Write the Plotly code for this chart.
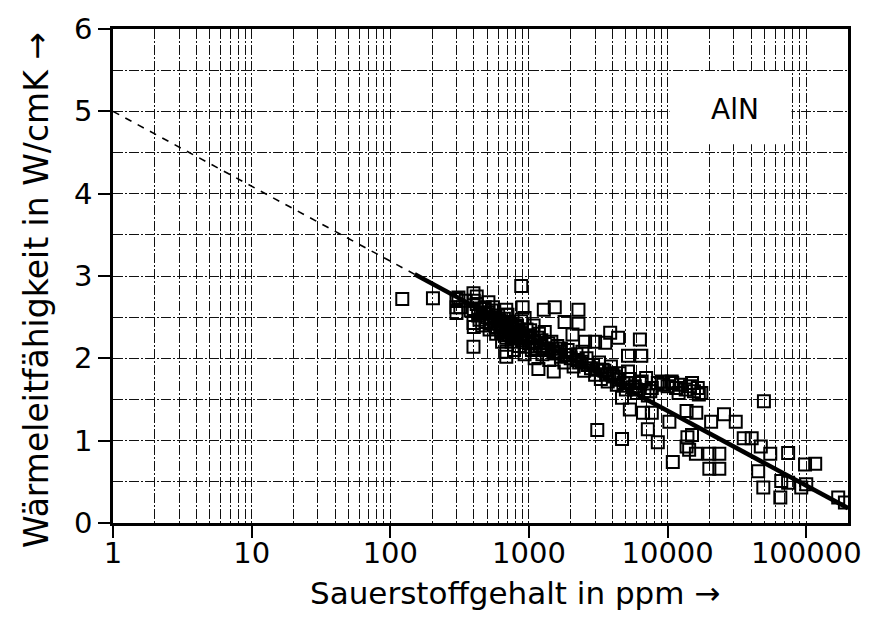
import plotly.graph_objects as go

# ---------------- data ----------------
# measured points: oxygen content (ppm) and thermal conductivity (W/cmK)
ppm = [122, 203, 300, 300, 300, 310, 398, 400, 398, 400, 398, 400, 510, 880, 1280, 1535, 2275, 1807, 2275,
       3853, 4395, 6310, 3550, 5180, 6460, 1510, 1170, 5180, 7690, 9060, 10700, 2430, 2060, 2540, 3000,
       8500, 9300, 10000, 10800, 11500, 12500, 13500, 14500, 15500, 16500, 17500, 12000, 15000, 16800,
       49500, 13700, 16100, 10300, 20600, 25500, 31000, 13900, 15000, 13700, 14300, 16000, 20000, 23600,
       20000, 23600, 35400, 40400, 8500, 47000, 55000, 74000, 98000, 116000, 45000, 49000, 66000, 74000,
       65000, 92000, 100000, 170000, 190000, 3110, 4690, 4690, 5340, 6650, 7690, 7200, 10900,
       686, 686, 686, 686, 686, 686, 900, 930,
       320, 350, 380, 420, 450, 460, 480, 500, 520, 540, 560, 580, 600, 620, 640, 660, 680, 700, 720,
       740, 760, 780, 800, 830, 850, 880, 900, 930, 960, 1000, 1000, 1050, 1080, 1100, 1150, 1200,
       1250, 1300, 1350, 1400, 1450, 1500, 1600, 1700, 1800, 1900, 2000, 2100, 2200, 2300, 2500, 2600,
       2800, 3000, 3200, 3300, 3500, 3700, 3900, 4100, 4300, 4500, 4800, 5000, 5300, 5600, 6000, 6300,
       6800, 7200, 420, 550, 1700, 2700, 3400, 4000, 5800, 6500, 7000, 7500,
       430, 470, 490, 510, 530, 570, 590, 610, 630, 650, 670, 690, 730, 750, 770, 790, 820, 860,
       890, 940, 980, 1020, 1060, 1120, 1180, 1230, 1280, 1380, 1480, 1650, 1850, 2400, 2900, 3600,
       440, 485, 525, 575, 615, 655, 705, 745, 795, 845, 910, 990, 1090, 1210, 1330, 1560, 1950, 2250,
       2650, 3100, 3800, 4400, 5100, 5900]
wlf = [2.72, 2.73, 2.72, 2.62, 2.55, 2.74, 2.79, 2.70, 2.43, 2.38, 2.14, 2.60, 2.68, 2.88, 2.59, 2.62, 2.59, 2.44, 2.42,
       2.31, 2.25, 2.23, 2.19, 2.03, 2.03, 1.84, 1.87, 1.84, 1.64, 1.72, 1.72, 2.08, 2.29, 2.20, 2.20,
       1.70, 1.68, 1.66, 1.70, 1.64, 1.68, 1.62, 1.66, 1.60, 1.64, 1.58, 1.58, 1.70, 1.56,
       1.48, 1.36, 1.34, 1.23, 1.23, 1.32, 1.23, 1.04, 1.07, 0.93, 0.89, 0.84, 0.84, 0.84,
       0.66, 0.66, 1.03, 1.03, 0.98, 0.93, 0.84, 0.85, 0.71, 0.72, 0.63, 0.43, 0.51, 0.49,
       0.31, 0.43, 0.47, 0.31, 0.25, 1.13, 1.02, 1.52, 1.38, 1.34, 1.34, 1.14, 0.74,
       2.59, 2.53, 2.31, 2.25, 2.08, 2.02, 2.62, 2.49,
       2.62, 2.70, 2.58, 2.66, 2.55, 2.40, 2.62, 2.50, 2.35, 2.58, 2.45, 2.30, 2.52, 2.40, 2.20, 2.48, 2.35, 2.53, 2.29,
       2.42, 2.25, 2.10, 2.38, 2.30, 2.15, 2.45, 2.22, 2.05, 2.35, 2.18, 2.28, 2.10, 2.40, 2.00, 2.25, 2.15,
       2.05, 2.32, 2.12, 1.98, 2.20, 2.08, 2.15, 2.02, 1.95, 2.10, 2.00, 1.90, 2.05, 1.95, 1.85, 2.00,
       1.88, 1.80, 1.95, 1.75, 1.85, 1.72, 1.90, 1.78, 1.68, 1.82, 1.70, 1.62, 1.75, 1.65, 1.58, 1.70,
       1.60, 1.55, 2.75, 2.62, 2.12, 1.92, 1.86, 1.80, 1.66, 1.72, 1.76, 1.60,
       2.52, 2.60, 2.44, 2.56, 2.42, 2.50, 2.38, 2.46, 2.32, 2.42, 2.28, 2.40, 2.36, 2.20, 2.32, 2.26, 2.40, 2.24,
       2.30, 2.14, 2.26, 2.34, 2.20, 2.12, 2.30, 2.22, 2.10, 2.18, 2.12, 2.08, 2.04, 1.96, 1.92, 1.80,
       2.47, 2.54, 2.48, 2.37, 2.46, 2.34, 2.44, 2.36, 2.28, 2.35, 2.26, 2.24, 2.20, 2.19, 2.10, 2.06, 2.04, 1.98,
       1.92, 1.86, 1.82, 1.74, 1.70, 1.62]

# regression line (solid part) and its extrapolation (dashed part)
fit_solid_x = [150, 200000]
fit_solid_y = [3.02, 0.18]
fit_dash_x = [1, 150]
fit_dash_y = [5.0, 3.02]

x_tickvals = [1, 10, 100, 1000, 10000, 100000]
x_ticktext = ["1", "10", "100", "1000", "10000", "100000"]
x_gridvals = [m * 10 ** e for e in range(0, 6) for m in range(1, 10) if m * 10 ** e <= 200000]
y_tickvals = [0, 1, 2, 3, 4, 5, 6]
y_gridvals = [0.5, 1.5, 2.5, 3.5, 4.5, 5.5]

label_text = "AlN"
x_title = "Sauerstoffgehalt in ppm →"
y_title = "Wärmeleitfähigkeit in W/cmK →"

FONT = "DejaVu Sans"
GRID_DASH = "10px,2px,2px,2px"
GRID_COLOR = "#111"

fig = go.Figure()
fig.add_trace(go.Scatter(x=fit_dash_x, y=fit_dash_y, mode="lines",
                         line=dict(color="black", width=1.6, dash="7px,7px"),
                         showlegend=False, hoverinfo="skip"))
fig.add_trace(go.Scatter(x=ppm, y=wlf, mode="markers",
                         marker=dict(symbol="square-open", size=12, color="black",
                                     line=dict(width=2, color="black")),
                         showlegend=False))
fig.add_trace(go.Scatter(x=fit_solid_x, y=fit_solid_y, mode="lines",
                         line=dict(color="black", width=4.5),
                         showlegend=False, hoverinfo="skip"))

fig.update_xaxes(type="log", range=[0, 5.30103],
                 tickmode="array", tickvals=x_tickvals, ticktext=x_ticktext,
                 ticks="outside", ticklen=12, tickwidth=1.5, tickcolor="black",
                 ticklabelstandoff=-10,
                 showgrid=False,
                 minor=dict(tickmode="array", tickvals=x_gridvals, showgrid=True,
                            gridcolor=GRID_COLOR, gridwidth=1, griddash=GRID_DASH, ticks=""),
                 showline=True, linecolor="black", linewidth=2.5, mirror=True,
                 tickfont=dict(family=FONT, size=29, color="black"),
                 zeroline=False)
fig.update_yaxes(range=[0, 6], tickmode="array", tickvals=y_tickvals,
                 ticks="outside", ticklen=12, tickwidth=1.5, tickcolor="black",
                 showgrid=True, gridcolor=GRID_COLOR, gridwidth=1, griddash=GRID_DASH,
                 minor=dict(tickmode="array", tickvals=y_gridvals, showgrid=True,
                            gridcolor=GRID_COLOR, gridwidth=1, griddash=GRID_DASH, ticks=""),
                 showline=True, linecolor="black", linewidth=2.5, mirror=True,
                 tickfont=dict(family=FONT, size=29, color="black"),
                 zeroline=False)

# white box behind the material label
fig.add_shape(type="rect", xref="x", yref="y", x0=10330, x1=78200, y0=4.60, y1=5.47,
              fillcolor="white", line=dict(width=0), layer="above")
fig.add_annotation(x=4.486, y=5.02, xref="x", yref="y", text=label_text, showarrow=False,
                   font=dict(family=FONT, size=28, color="black"))

fig.add_annotation(x=0.547, y=-0.142, xref="paper", yref="paper", text=x_title, showarrow=False,
                   font=dict(family=FONT, size=31, color="black"), yanchor="middle")
fig.add_annotation(x=-0.104, y=0.471, xref="paper", yref="paper", text=y_title, showarrow=False,
                   textangle=-90, font=dict(family=FONT, size=33, color="black"), xanchor="center")

fig.update_layout(width=873, height=626, margin=dict(l=113, r=18, t=18, b=103),
                  paper_bgcolor="white", plot_bgcolor="white", showlegend=False)

fig.write_html("out.html")
